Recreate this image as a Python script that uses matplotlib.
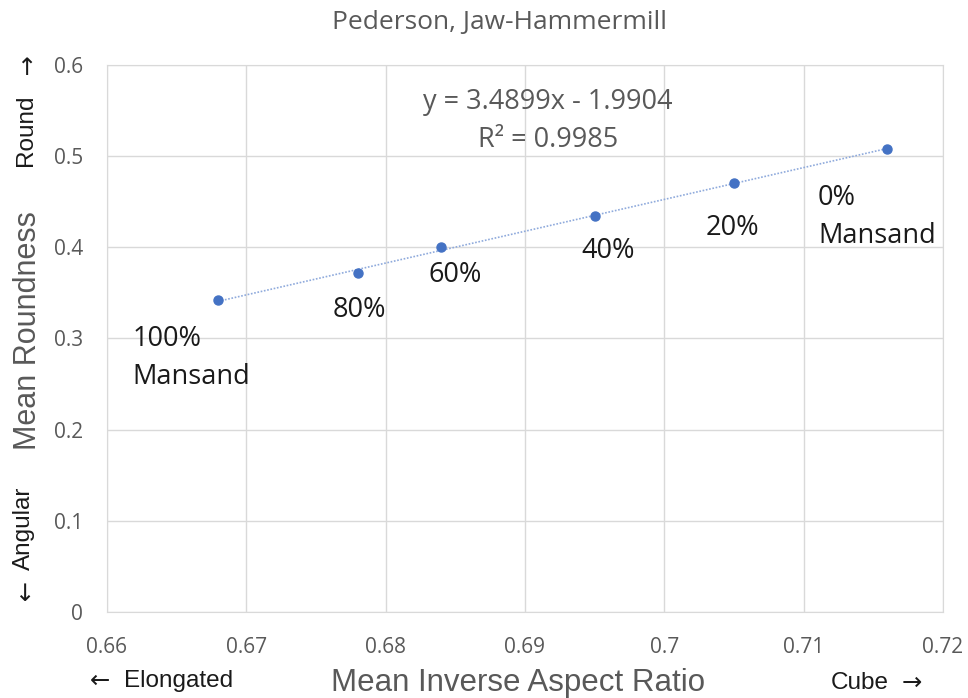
import numpy as np
import matplotlib.pyplot as plt

# Pederson jaw-hammermill blends: shape descriptors per Mansand fraction
aspect = [0.668, 0.678, 0.684, 0.695, 0.705, 0.716]
roundness = [0.342, 0.372, 0.400, 0.434, 0.471, 0.508]
labels = ['100%\nMansand', '80%', '60%', '40%', '20%', '0%\nMansand']
slope, intercept = 3.4899, -1.9904
r2 = 0.9985

xticks = [0.66, 0.67, 0.68, 0.69, 0.70, 0.71, 0.72]
xticklabels = ['0.66', '0.67', '0.68', '0.69', '0.7', '0.71', '0.72']
yticks = [0, 0.1, 0.2, 0.3, 0.4, 0.5, 0.6]
yticklabels = ['0', '0.1', '0.2', '0.3', '0.4', '0.5', '0.6']

# label offsets in pixels from each point (x, y, horizontal alignment)
offsets = [(-86, -58, 'left'), (2, -37, 'center'), (14, -28, 'center'),
           (14, -35, 'center'), (-1, -45, 'center'), (-69, -68, 'left')]

gray = '#595959'
ink = '#1a1a1a'
blue = '#4472C4'
plt.rcParams['font.family'] = ['Open Sans', 'DejaVu Sans']
arial = ['Liberation Sans', 'DejaVu Sans']

fig = plt.figure(figsize=(9.68, 6.98), dpi=100)
ax = fig.add_axes([0.1105, 0.1232, 0.8635, 0.7837])

# linear trendline over the data range
xt = np.linspace(min(aspect), max(aspect), 50)
ax.plot(xt, slope * xt + intercept, ls=(0, (1, 1)), lw=1.2, color='#8FAADC', zorder=2)
ax.plot(aspect, roundness, 'o', color=blue, ms=6.5, zorder=3)

for x, y, lab, (dx, dy, ha) in zip(aspect, roundness, labels, offsets):
    ax.annotate(lab, (x, y), xytext=(dx, dy), textcoords='offset pixels',
                ha=ha, va='center', fontsize=19.5, color=ink,
                linespacing=1.5, multialignment='left')

ax.text(0.5275, 0.898, f'y = {slope}x - {abs(intercept)}\nR² = {r2}',
        transform=ax.transAxes, ha='center', va='center', fontsize=19.5,
        color=gray, linespacing=1.5)

ax.set_xlim(0.66, 0.72)
ax.set_ylim(0, 0.6)
ax.set_xticks(xticks)
ax.set_xticklabels(xticklabels)
ax.set_yticks(yticks)
ax.set_yticklabels(yticklabels)
ax.tick_params(length=0, labelsize=15, labelcolor=gray)
ax.tick_params(axis='x', pad=18)
ax.tick_params(axis='y', pad=17)
ax.grid(True, color='#D9D9D9', lw=1)
ax.set_axisbelow(True)
for s in ax.spines.values():
    s.set_color('#D9D9D9')

fig.text(0.5155, 0.968, 'Pederson, Jaw-Hammermill', ha='center', va='center',
         fontsize=19, color=gray)
fig.text(0.535, 0.021, 'Mean Inverse Aspect Ratio', ha='center', va='center',
         fontsize=22.5, color=gray, family=arial)
fig.text(0.029, 0.527, 'Mean Roundness', ha='center', va='center',
         rotation=90, fontsize=22, color=gray, family=arial)

# direction hints along the axes: words and arrows set separately
hint = dict(va='center', fontsize=17.5, color=ink, family=arial)
arrow = dict(ha='center', va='center', fontsize=17.5, color=ink,
             family=['DejaVu Sans'])
fig.text(0.1033, 0.0244, '←', **arrow)
fig.text(0.128, 0.0244, 'Elongated', ha='left', **hint)
fig.text(0.888, 0.0215, 'Cube', ha='center', **hint)
fig.text(0.942, 0.0215, '→', **arrow)
fig.text(0.0269, 0.8138, 'Round', ha='center', rotation=90, **hint)
fig.text(0.0269, 0.9026, '↑', **arrow)
fig.text(0.0248, 0.2436, 'Angular', ha='center', rotation=90, **hint)
fig.text(0.0248, 0.149, '↓', **arrow)

fig.savefig('out.png', dpi=100)
